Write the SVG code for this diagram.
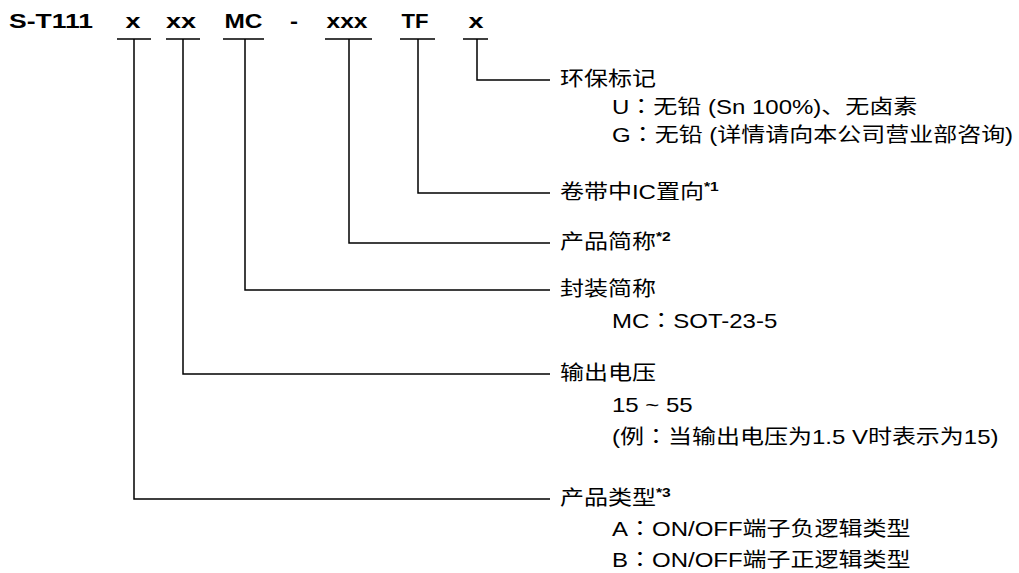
<svg xmlns="http://www.w3.org/2000/svg" width="1019" height="573" viewBox="0 0 1019 573">
<style>
.code{font-family:"Liberation Sans",Arial,sans-serif;font-weight:bold;font-size:20px;fill:#000}
.lbl{font-family:"Liberation Sans","Noto Sans CJK SC",sans-serif;font-size:20px;fill:#000}
.sup{font-family:"Liberation Sans",Arial,sans-serif;font-weight:bold;font-size:13px}
.cl{font-family:"Noto Sans CJK JP",sans-serif}
.ln{fill:none;stroke:#000;stroke-width:1.5}
</style>
<rect width="1019" height="573" fill="#fff"/>
<g id="code">
<text class="code" x="9" y="28" textLength="84" lengthAdjust="spacingAndGlyphs">S-T111</text>
<text class="code" x="133" y="28" text-anchor="middle" textLength="15" lengthAdjust="spacingAndGlyphs">x</text>
<text class="code" x="181" y="28" text-anchor="middle" textLength="30" lengthAdjust="spacingAndGlyphs">xx</text>
<text class="code" x="243.5" y="28" text-anchor="middle" textLength="38" lengthAdjust="spacingAndGlyphs">MC</text>
<text class="code" x="294" y="28" text-anchor="middle" textLength="8" lengthAdjust="spacingAndGlyphs">-</text>
<text class="code" x="347" y="28" text-anchor="middle" textLength="41" lengthAdjust="spacingAndGlyphs">xxx</text>
<text class="code" x="415" y="28" text-anchor="middle" textLength="27" lengthAdjust="spacingAndGlyphs">TF</text>
<text class="code" x="476" y="28" text-anchor="middle" textLength="15" lengthAdjust="spacingAndGlyphs">x</text>
</g>
<g id="connectors" class="ln">
<path d="M117 39H151M166 39H200M223 39H264M325 39H372M400 39H435M463 39H488"/>
<path d="M477 39V80H550"/>
<path d="M418 39V193H550"/>
<path d="M349 39V243H550"/>
<path d="M245 39V290H550"/>
<path d="M183 39V374H550"/>
<path d="M134 39V499H550"/>
</g>
<g id="env">
<text class="lbl" transform="translate(560,86) scale(1.2,1)">环保标记</text>
<text class="lbl" transform="translate(612,114) scale(1.2,1)">U<tspan class="cl">：</tspan>无铅 (Sn 100%)、无卤素</text>
<text class="lbl" transform="translate(612,142) scale(1.2,1)">G<tspan class="cl">：</tspan>无铅 (详情请向本公司营业部咨询)</text>
</g>
<g id="tape">
<text class="lbl" transform="translate(560,199) scale(1.2,1)">卷带中IC置向<tspan class="sup" dy="-8">*1</tspan></text>
</g>
<g id="product">
<text class="lbl" transform="translate(560,249) scale(1.2,1)">产品简称<tspan class="sup" dy="-8">*2</tspan></text>
</g>
<g id="package">
<text class="lbl" transform="translate(560,296) scale(1.2,1)">封装简称</text>
<text class="lbl" transform="translate(612,328) scale(1.2,1)">MC<tspan class="cl">：</tspan>SOT-23-5</text>
</g>
<g id="vout">
<text class="lbl" transform="translate(560,380) scale(1.2,1)">输出电压</text>
<text class="lbl" transform="translate(612,412) scale(1.2,1)">15 ~ 55</text>
<text class="lbl" transform="translate(612,444) scale(1.2,1)">(例<tspan class="cl">：</tspan>当输出电压为1.5 V时表示为15)</text>
</g>
<g id="type">
<text class="lbl" transform="translate(560,505) scale(1.2,1)">产品类型<tspan class="sup" dy="-8">*3</tspan></text>
<text class="lbl" transform="translate(612,536) scale(1.2,1)">A<tspan class="cl">：</tspan>ON/OFF端子负逻辑类型</text>
<text class="lbl" transform="translate(612,567) scale(1.2,1)">B<tspan class="cl">：</tspan>ON/OFF端子正逻辑类型</text>
</g>
</svg>
